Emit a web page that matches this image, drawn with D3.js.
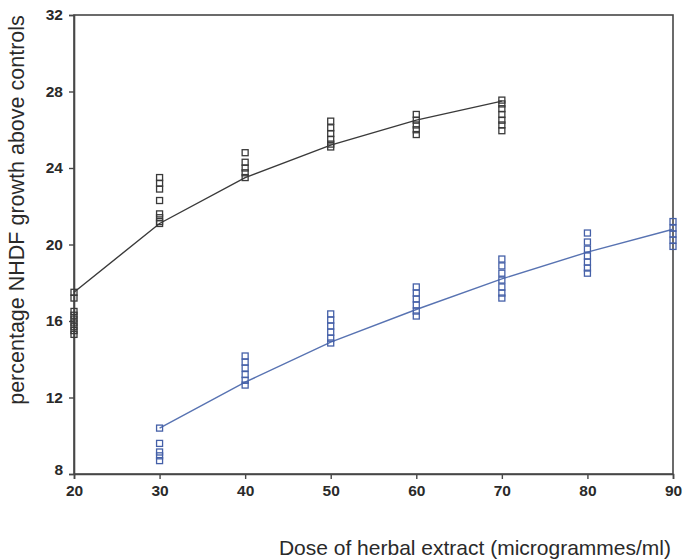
<!DOCTYPE html>
<html>
<head>
<meta charset="utf-8">
<script src="https://cdn.jsdelivr.net/npm/d3@7"></script>
<style>
  html, body { margin: 0; padding: 0; background: #fff; }
  svg { display: block; }
</style>
</head>
<body>
<svg id="chart" width="684" height="559"></svg>
<script>
// ---- data ----
const xTicks = [20, 30, 40, 50, 60, 70, 80, 90];
const yTicks = [8, 12, 16, 20, 24, 28, 32];

// fitted line (black series)
const blackDose = [20, 30, 40, 50, 60, 70];
const blackFit  = [17.5, 21.1, 23.5, 25.2, 26.5, 27.5];
// replicate observations (black series)
const blackObs = [
  [17.5, 17.2, 16.5, 16.3, 16.1, 15.9, 15.7, 15.5, 15.3],
  [23.5, 23.2, 22.9, 22.3, 21.6, 21.4, 21.2, 21.1],
  [24.8, 24.3, 24.0, 23.75, 23.5],
  [26.45, 26.1, 25.8, 25.5, 25.25, 25.1],
  [26.8, 26.5, 26.25, 26.0, 25.75],
  [27.55, 27.35, 27.1, 26.8, 26.5, 26.25, 25.95]
];

// fitted line (blue series)
const blueDose = [30, 40, 50, 60, 70, 80, 90];
const blueFit  = [10.4, 12.8, 14.9, 16.6, 18.2, 19.6, 20.8];
const blueObs = [
  [10.4, 9.6, 9.15, 8.95, 8.7],
  [14.17, 13.85, 13.54, 13.2, 12.9, 12.65],
  [16.37, 16.05, 15.74, 15.42, 15.1, 14.85],
  [17.78, 17.46, 17.15, 16.84, 16.52, 16.26],
  [19.24, 18.88, 18.5, 18.14, 17.78, 17.46, 17.2],
  [20.6, 20.13, 19.76, 19.4, 19.08, 18.77, 18.5],
  [21.2, 20.86, 20.55, 20.23, 19.9]
];

const xTitle = "Dose of herbal extract (microgrammes/ml)";
const yTitle = "percentage NHDF growth above controls";

// ---- layout ----
const svg = d3.select("#chart");
const mLeft = 74, mRight = 673, mTop = 15, mBottom = 474;
const x = d3.scaleLinear().domain([20, 90]).range([mLeft, mRight]);
const y = d3.scaleLinear().domain([8, 32]).range([mBottom, mTop]);

const axisColor = "#474747";
const blackColor = "#3a3a3a";
const blueColor = "#4560a8";
const blueLine = "#5873b2";
const textColor = "#2a2a2a";

// frame
svg.append("rect")
  .attr("x", mLeft).attr("y", mTop)
  .attr("width", mRight - mLeft).attr("height", mBottom - mTop)
  .attr("fill", "none").attr("stroke", axisColor).attr("stroke-width", 1.6);

// axes
const fontFam = "'Liberation Sans', Arial, Helvetica, sans-serif";
const gx = svg.append("g").attr("transform", `translate(0,${mBottom})`)
  .call(d3.axisBottom(x).tickValues(xTicks).tickFormat(d3.format("d")).tickSize(5).tickPadding(6));
const gy = svg.append("g").attr("transform", `translate(${mLeft},0)`)
  .call(d3.axisLeft(y).tickValues(yTicks).tickFormat(d3.format("d")).tickSize(5).tickPadding(6));
[gx, gy].forEach(g => {
  g.select(".domain").attr("stroke", axisColor).attr("stroke-width", 1.6);
  g.selectAll(".tick line").attr("stroke", axisColor).attr("stroke-width", 1.4);
  g.selectAll(".tick text")
    .attr("fill", textColor)
    .style("font-family", fontFam)
    .style("font-size", "15.5px")
    .style("font-weight", "bold");
});
gy.selectAll(".tick text").filter(d => d === 8).attr("dy", "0.0em");

// titles
svg.append("text")
  .attr("transform", `translate(24,210) rotate(-90)`)
  .attr("text-anchor", "middle")
  .attr("fill", textColor)
  .style("font-family", fontFam)
  .style("font-size", "21.5px")
  .text(yTitle);

svg.append("text")
  .attr("x", 671).attr("y", 555)
  .attr("text-anchor", "end")
  .attr("fill", textColor)
  .style("font-family", fontFam)
  .style("font-size", "21px")
  .text(xTitle);

// lines
const line = d3.line().x(d => x(d[0])).y(d => y(d[1]));
svg.append("path")
  .datum(blackDose.map((d, i) => [d, blackFit[i]]))
  .attr("d", line).attr("fill", "none")
  .attr("stroke", blackColor).attr("stroke-width", 1.4);
svg.append("path")
  .datum(blueDose.map((d, i) => [d, blueFit[i]]))
  .attr("d", line).attr("fill", "none")
  .attr("stroke", blueLine).attr("stroke-width", 1.4);

// points
const sq = 6;
function drawPts(doses, obs, color) {
  const pts = [];
  doses.forEach((d, i) => obs[i].forEach(v => pts.push([d, v])));
  svg.append("g").selectAll("rect").data(pts).join("rect")
    .attr("x", d => x(d[0]) - sq / 2)
    .attr("y", d => y(d[1]) - sq / 2)
    .attr("width", sq).attr("height", sq)
    .attr("fill", "none")
    .attr("stroke", color).attr("stroke-width", 1.3);
}
drawPts(blackDose, blackObs, blackColor);
drawPts(blueDose, blueObs, blueColor);
</script>
</body>
</html>
